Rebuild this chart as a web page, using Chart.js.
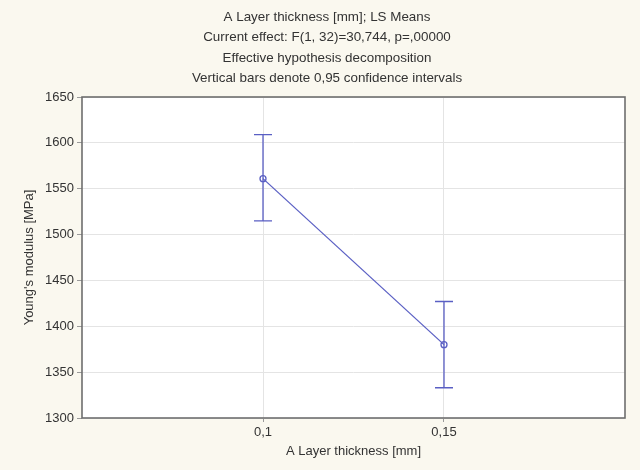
<!DOCTYPE html>
<html>
<head>
<meta charset="utf-8">
<title>LS Means</title>
<script src="https://cdn.jsdelivr.net/npm/chart.js@4.4.1/dist/chart.umd.min.js"></script>
<style>
  html, body { margin: 0; padding: 0; background: #faf8ef; }
  #wrap { width: 640px; height: 470px; position: relative; }
</style>
</head>
<body>
<div id="wrap"><canvas id="myChart"></canvas></div>
<script>
// datos del grafico
const titleLines = [
  'A Layer thickness [mm]; LS Means',
  'Current effect: F(1, 32)=30,744, p=,00000',
  'Effective hypothesis decomposition',
  'Vertical bars denote 0,95 confidence intervals'
];
const thickness = [0.1, 0.15];
const thicknessLabels = ['0,1', '0,15'];
const lsMeans = [1561, 1380];
const lowerCI = [1515, 1333];
const upperCI = [1609, 1427];
const yTicks = [1300, 1350, 1400, 1450, 1500, 1550, 1600, 1650];

const lineColor = '#5a5fc4';
const textColor = '#333333';

// fondo crema y zona de grafico blanca
const fondo = {
  id: 'fondo',
  beforeDraw(chart) {
    const { ctx, chartArea: a } = chart;
    ctx.save();
    ctx.fillStyle = '#faf8ef';
    ctx.fillRect(0, 0, chart.width, chart.height);
    ctx.fillStyle = '#ffffff';
    ctx.fillRect(a.left, a.top, a.right - a.left, a.bottom - a.top);
    ctx.restore();
  }
};

// barras de intervalo de confianza, marco y titulo de cuatro lineas
const extras = {
  id: 'extras',
  afterDraw(chart) {
    const { ctx, chartArea: a, scales } = chart;
    ctx.save();

    ctx.strokeStyle = lineColor;
    ctx.lineWidth = 1.3;
    thickness.forEach((t, i) => {
      const x = scales.x.getPixelForValue(t);
      const yLo = scales.y.getPixelForValue(lowerCI[i]);
      const yHi = scales.y.getPixelForValue(upperCI[i]);
      ctx.beginPath();
      ctx.moveTo(x, yLo); ctx.lineTo(x, yHi);
      ctx.moveTo(x - 9, yLo); ctx.lineTo(x + 9, yLo);
      ctx.moveTo(x - 9, yHi); ctx.lineTo(x + 9, yHi);
      ctx.stroke();
    });

    ctx.strokeStyle = '#6e6e6e';
    ctx.lineWidth = 1.6;
    ctx.strokeRect(a.left, a.top, a.right - a.left, a.bottom - a.top);

    ctx.fillStyle = textColor;
    ctx.font = '13.4px "Liberation Sans", Arial, sans-serif';
    ctx.textAlign = 'center';
    ctx.textBaseline = 'middle';
    titleLines.forEach((line, i) => {
      ctx.fillText(line, 327, 17 + i * 20.5);
    });
    ctx.restore();
  }
};

function chart1() {
  const ctx = document.getElementById('myChart');
  Chart.defaults.font.family = '"Liberation Sans", Arial, sans-serif';
  Chart.defaults.font.size = 13;
  Chart.defaults.color = textColor;

  new Chart(ctx, {
    type: 'line',
    data: {
      datasets: [{
        label: 'LS Means',
        data: thickness.map((t, i) => ({ x: t, y: lsMeans[i] })),
        borderColor: lineColor,
        borderWidth: 1.3,
        pointRadius: 3,
        pointBorderWidth: 1.3,
        pointBorderColor: lineColor,
        pointBackgroundColor: 'rgba(255,255,255,0)',
        tension: 0
      }]
    },
    options: {
      responsive: true,
      maintainAspectRatio: false,
      animation: false,
      layout: { padding: { top: 97, right: 15, bottom: 11, left: 22 } },
      plugins: {
        legend: { display: false },
        tooltip: { enabled: false }
      },
      scales: {
        x: {
          type: 'linear',
          min: 0.05,
          max: 0.2,
          afterBuildTicks: axis => { axis.ticks = thickness.map(v => ({ value: v })); },
          afterFit: axis => { axis.height = 41; },
          ticks: {
            color: textColor,
            padding: 3,
            callback: value => thicknessLabels[thickness.indexOf(value)]
          },
          grid: { color: '#e4e4e4', tickLength: 4, tickColor: '#9a9a9a' },
          border: { display: false },
          title: {
            display: true,
            text: 'A Layer thickness [mm]',
            color: textColor,
            padding: { top: 0, bottom: 0 }
          }
        },
        y: {
          min: 1300,
          max: 1650,
          afterBuildTicks: axis => { axis.ticks = yTicks.map(v => ({ value: v })); },
          afterFit: axis => { axis.width = 60; },
          ticks: {
            color: textColor,
            padding: 3,
            callback: value => String(value)
          },
          grid: { color: '#e4e4e4', tickLength: 5, tickColor: '#9a9a9a' },
          border: { display: false },
          title: {
            display: true,
            text: "Young's modulus [MPa]",
            color: textColor,
            padding: { top: 0, bottom: 0 }
          }
        }
      }
    },
    plugins: [fondo, extras]
  });
}

chart1();
</script>
</body>
</html>
